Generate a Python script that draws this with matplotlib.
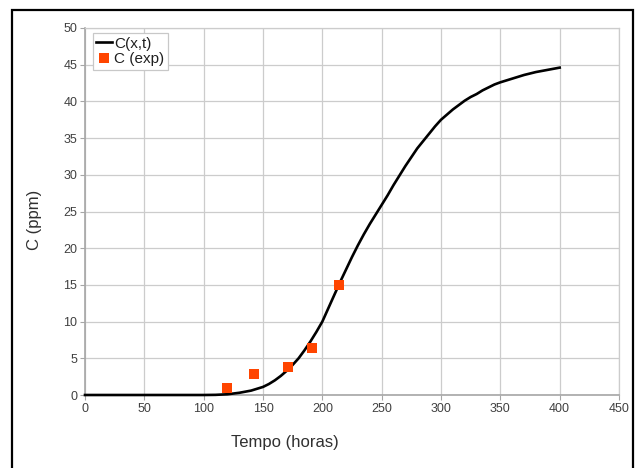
import matplotlib
matplotlib.use("Agg")
import matplotlib.pyplot as plt
from matplotlib.patches import Rectangle

plt.rcParams['font.family'] = ['Liberation Sans', 'DejaVu Sans']

# Model curve C(x,t)
t_model = [0, 20, 40, 60, 80, 100, 110, 120, 130, 140, 145, 150, 155, 160, 165,
           170, 175, 180, 185, 190, 195, 200, 205, 210, 215, 220, 225, 230, 235,
           240, 245, 250, 255, 260, 265, 270, 275, 280, 285, 290, 295, 300, 305,
           310, 315, 320, 325, 330, 335, 340, 345, 350, 360, 370, 380, 390, 400]
c_model = [0, 0, 0, 0, 0, 0, 0.02, 0.1, 0.3, 0.6, 0.85, 1.1, 1.5, 2.0, 2.6,
           3.3, 4.1, 5.0, 6.1, 7.3, 8.6, 10.0, 11.8, 13.6, 15.4, 17.1, 18.8, 20.4, 21.9,
           23.3, 24.6, 25.9, 27.2, 28.6, 29.9, 31.2, 32.4, 33.6, 34.6, 35.6, 36.6, 37.5, 38.2,
           38.9, 39.5, 40.1, 40.6, 41.0, 41.5, 41.9, 42.3, 42.6, 43.1, 43.6, 44.0, 44.3, 44.6]

# Experimental points
t_exp = [120, 142, 171, 191, 214]
c_exp = [1.0, 2.9, 3.8, 6.4, 15.0]

x_ticks = [0, 50, 100, 150, 200, 250, 300, 350, 400, 450]
y_ticks = [0, 5, 10, 15, 20, 25, 30, 35, 40, 45, 50]

W, H = 635, 468
fig = plt.figure(figsize=(W / 100, H / 100), dpi=100)
fig.patch.set_facecolor('white')

# outer frame
fig.patches.append(Rectangle((12 / W, -0.05), (632.5 - 12) / W, 1.05 - 10 / H,
                             transform=fig.transFigure, fill=False,
                             edgecolor='black', linewidth=1.6, zorder=0))

ax = fig.add_axes([85 / W, 1 - 395 / H, (619 - 85) / W, (395 - 28) / H])
ax.set_xlim(0, 450)
ax.set_ylim(0, 50)
ax.set_xticks(x_ticks)
ax.set_yticks(y_ticks)
ax.grid(True, color='#cccccc', linewidth=0.9, zorder=0)
ax.set_axisbelow(True)

for s in ['left', 'bottom']:
    ax.spines[s].set_color('#a6a6a6')
    ax.spines[s].set_linewidth(1.2)
for s in ['top', 'right']:
    ax.spines[s].set_color('#cccccc')
    ax.spines[s].set_linewidth(0.9)

ax.tick_params(axis='both', colors='#a6a6a6', labelcolor='#404040',
               labelsize=9, length=3.5, width=0.8, direction='out', pad=2)

ax.plot(t_model, c_model, color='black', linewidth=1.9, label='C(x,t)',
        zorder=3, clip_on=False, solid_joinstyle='round')
ax.plot(t_exp, c_exp, linestyle='none', marker='s', markersize=6.5,
        color='#ff4500', markeredgewidth=0, label='C (exp)', zorder=4)

leg = ax.legend(loc='upper left', bbox_to_anchor=(92.5 / W, 1 - 33 / H),
                bbox_transform=fig.transFigure, borderaxespad=0,
                fontsize=11, frameon=True, fancybox=False, framealpha=1,
                edgecolor='#c8c8c8', handlelength=1.0, handletextpad=0.15,
                borderpad=0.25, labelspacing=0.1)
leg.get_frame().set_linewidth(0.9)
for txt in leg.get_texts():
    txt.set_color('#202020')

fig.text(285 / W, 1 - 442 / H, 'Tempo (horas)', ha='center', va='center',
         fontsize=12, color='#303030')
fig.text(34 / W, 1 - 220 / H, 'C (ppm)', ha='center', va='center',
         fontsize=12, color='#303030', rotation=90)

fig.savefig('out.png', dpi=100)
